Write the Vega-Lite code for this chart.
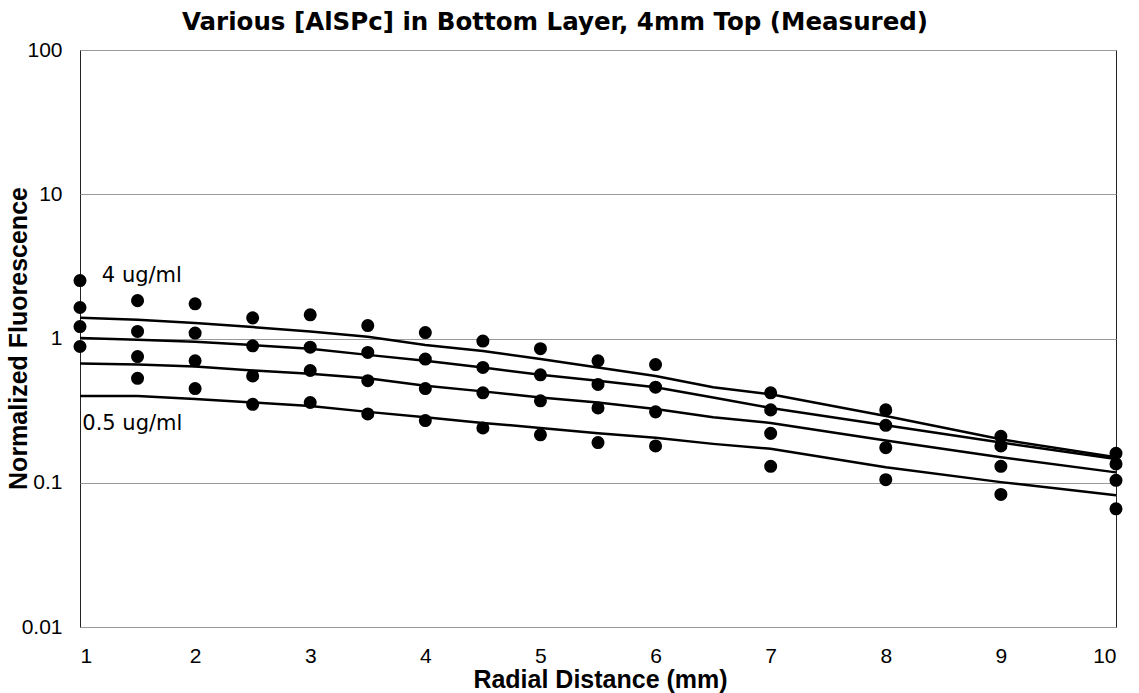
{
  "$schema": "https://vega.github.io/schema/vega-lite/v6.json",
  "autosize": {"type": "none"},
  "width": 1036,
  "height": 577,
  "padding": {"left": 80, "top": 50, "right": 23, "bottom": 66},
  "background": "white",
  "title": {
    "text": "Various [AlSPc] in Bottom Layer, 4mm Top (Measured)",
    "font": "DejaVu Sans",
    "fontSize": 24.5,
    "fontWeight": "bold",
    "color": "black",
    "anchor": "middle",
    "dx": -43,
    "offset": 4
  },
  "config": {
    "view": {"stroke": "#222222", "strokeWidth": 1},
    "axis": {
      "labelFont": "Liberation Sans",
      "labelFontSize": 21,
      "labelColor": "black",
      "titleFont": "Liberation Sans",
      "titleFontSize": 25,
      "titleFontWeight": "bold",
      "titleColor": "black",
      "domain": false
    }
  },
  "datasets": {
    "pts": [
      {"x": 1, "y": 2.52}, {"x": 1, "y": 1.64}, {"x": 1, "y": 1.21}, {"x": 1, "y": 0.88},
      {"x": 1.5, "y": 1.83}, {"x": 1.5, "y": 1.12}, {"x": 1.5, "y": 0.75}, {"x": 1.5, "y": 0.53},
      {"x": 2, "y": 1.74}, {"x": 2, "y": 1.09}, {"x": 2, "y": 0.70}, {"x": 2, "y": 0.45},
      {"x": 2.5, "y": 1.39}, {"x": 2.5, "y": 0.89}, {"x": 2.5, "y": 0.55}, {"x": 2.5, "y": 0.35},
      {"x": 3, "y": 1.46}, {"x": 3, "y": 0.87}, {"x": 3, "y": 0.60}, {"x": 3, "y": 0.36},
      {"x": 3.5, "y": 1.23}, {"x": 3.5, "y": 0.80}, {"x": 3.5, "y": 0.51}, {"x": 3.5, "y": 0.30},
      {"x": 4, "y": 1.10}, {"x": 4, "y": 0.72}, {"x": 4, "y": 0.45}, {"x": 4, "y": 0.27},
      {"x": 4.5, "y": 0.96}, {"x": 4.5, "y": 0.63}, {"x": 4.5, "y": 0.42}, {"x": 4.5, "y": 0.24},
      {"x": 5, "y": 0.85}, {"x": 5, "y": 0.56}, {"x": 5, "y": 0.37}, {"x": 5, "y": 0.215},
      {"x": 5.5, "y": 0.70}, {"x": 5.5, "y": 0.48}, {"x": 5.5, "y": 0.33}, {"x": 5.5, "y": 0.19},
      {"x": 6, "y": 0.66}, {"x": 6, "y": 0.46}, {"x": 6, "y": 0.31}, {"x": 6, "y": 0.18},
      {"x": 7, "y": 0.42}, {"x": 7, "y": 0.32}, {"x": 7, "y": 0.22}, {"x": 7, "y": 0.13},
      {"x": 8, "y": 0.32}, {"x": 8, "y": 0.25}, {"x": 8, "y": 0.175}, {"x": 8, "y": 0.105},
      {"x": 9, "y": 0.21}, {"x": 9, "y": 0.18}, {"x": 9, "y": 0.13}, {"x": 9, "y": 0.083},
      {"x": 10, "y": 0.16}, {"x": 10, "y": 0.135}, {"x": 10, "y": 0.104}, {"x": 10, "y": 0.066}
    ],
    "fits": [
      {"c": "4", "x": 1, "y": 1.39}, {"c": "4", "x": 1.5, "y": 1.35}, {"c": "4", "x": 2, "y": 1.28}, {"c": "4", "x": 2.5, "y": 1.20},
      {"c": "4", "x": 3, "y": 1.12}, {"c": "4", "x": 3.5, "y": 1.03}, {"c": "4", "x": 4, "y": 0.90}, {"c": "4", "x": 4.5, "y": 0.82},
      {"c": "4", "x": 5, "y": 0.72}, {"c": "4", "x": 5.5, "y": 0.63}, {"c": "4", "x": 6, "y": 0.55}, {"c": "4", "x": 6.5, "y": 0.46},
      {"c": "4", "x": 7, "y": 0.41}, {"c": "4", "x": 8, "y": 0.29}, {"c": "4", "x": 9, "y": 0.20}, {"c": "4", "x": 10, "y": 0.15},
      {"c": "2", "x": 1, "y": 1.01}, {"c": "2", "x": 1.5, "y": 0.98}, {"c": "2", "x": 2, "y": 0.95}, {"c": "2", "x": 2.5, "y": 0.90},
      {"c": "2", "x": 3, "y": 0.85}, {"c": "2", "x": 3.5, "y": 0.77}, {"c": "2", "x": 4, "y": 0.70}, {"c": "2", "x": 4.5, "y": 0.63},
      {"c": "2", "x": 5, "y": 0.56}, {"c": "2", "x": 5.5, "y": 0.51}, {"c": "2", "x": 6, "y": 0.46}, {"c": "2", "x": 6.5, "y": 0.39},
      {"c": "2", "x": 7, "y": 0.33}, {"c": "2", "x": 8, "y": 0.25}, {"c": "2", "x": 9, "y": 0.19}, {"c": "2", "x": 10, "y": 0.146},
      {"c": "1", "x": 1, "y": 0.67}, {"c": "1", "x": 1.5, "y": 0.66}, {"c": "1", "x": 2, "y": 0.64}, {"c": "1", "x": 2.5, "y": 0.60},
      {"c": "1", "x": 3, "y": 0.57}, {"c": "1", "x": 3.5, "y": 0.53}, {"c": "1", "x": 4, "y": 0.47}, {"c": "1", "x": 4.5, "y": 0.43},
      {"c": "1", "x": 5, "y": 0.39}, {"c": "1", "x": 5.5, "y": 0.36}, {"c": "1", "x": 6, "y": 0.325}, {"c": "1", "x": 6.5, "y": 0.285},
      {"c": "1", "x": 7, "y": 0.26}, {"c": "1", "x": 8, "y": 0.196}, {"c": "1", "x": 9, "y": 0.15}, {"c": "1", "x": 10, "y": 0.118},
      {"c": "0.5", "x": 1, "y": 0.40}, {"c": "0.5", "x": 1.5, "y": 0.40}, {"c": "0.5", "x": 2, "y": 0.38}, {"c": "0.5", "x": 2.5, "y": 0.36},
      {"c": "0.5", "x": 3, "y": 0.34}, {"c": "0.5", "x": 3.5, "y": 0.31}, {"c": "0.5", "x": 4, "y": 0.285}, {"c": "0.5", "x": 4.5, "y": 0.26},
      {"c": "0.5", "x": 5, "y": 0.24}, {"c": "0.5", "x": 5.5, "y": 0.22}, {"c": "0.5", "x": 6, "y": 0.205}, {"c": "0.5", "x": 6.5, "y": 0.186},
      {"c": "0.5", "x": 7, "y": 0.172}, {"c": "0.5", "x": 8, "y": 0.128}, {"c": "0.5", "x": 9, "y": 0.101}, {"c": "0.5", "x": 10, "y": 0.082}
    ],
    "labels": [
      {"x": 1.19, "y": 2.73, "t": "4 ug/ml"},
      {"x": 1.02, "y": 0.255, "t": "0.5 ug/ml"}
    ]
  },
  "encoding": {
    "x": {
      "field": "x", "type": "quantitative",
      "scale": {"domain": [1, 10], "nice": false, "zero": false},
      "axis": {
        "values": [1, 2, 3, 4, 5, 6, 7, 8, 9, 10],
        "grid": false,
        "ticks": false,
        "labelPadding": 18,
        "title": "Radial Distance (mm)",
        "titleX": 520,
        "titleY": 60,
        "titleBaseline": "alphabetic",
        "titleAlign": "center"
      }
    },
    "y": {
      "field": "y", "type": "quantitative",
      "scale": {"type": "log", "domain": [0.01, 100], "nice": false},
      "axis": {
        "values": [0.01, 0.1, 1, 10, 100],
        "format": "~g",
        "grid": true,
        "gridColor": "#9a9a9a",
        "gridWidth": 1,
        "ticks": false,
        "labelPadding": 18,
        "title": "Normalized Fluorescence",
        "titleX": -62,
        "titleY": 288,
        "titleBaseline": "middle",
        "titleAlign": "center"
      }
    }
  },
  "layer": [
    {
      "data": {"name": "fits"},
      "mark": {"type": "line", "color": "black", "strokeWidth": 2.5},
      "encoding": {"detail": {"field": "c"}}
    },
    {
      "data": {"name": "pts"},
      "mark": {"type": "circle", "color": "black", "opacity": 1, "size": 170}
    },
    {
      "data": {"name": "labels"},
      "mark": {"type": "text", "align": "left", "baseline": "middle", "font": "DejaVu Sans", "fontSize": 21, "color": "black"},
      "encoding": {"text": {"field": "t"}}
    }
  ]
}
